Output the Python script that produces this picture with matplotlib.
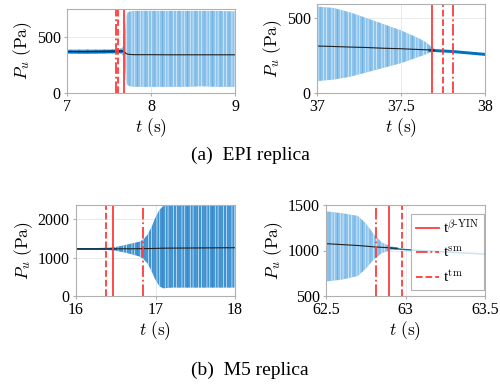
import numpy as np
import matplotlib
matplotlib.use("Agg")
from matplotlib import pyplot as plt

plt.rcParams['font.family'] = ['Liberation Serif', 'DejaVu Serif']
plt.rcParams['mathtext.fontset'] = 'cm'
plt.rcParams['hatch.linewidth'] = 0.5

BLUE = '#0072BD'
LIGHT = '#8cc3ec'
RED = '#ff3b3b'

# EPI onset (7-9 s)
a1_t = [7.0, 7.2, 7.4, 7.6, 7.65, 7.68, 7.7, 7.72, 7.75, 7.8, 8.0, 8.2, 8.4, 8.6, 8.8, 9.0]
a1_hi = [390, 392, 392, 395, 400, 430, 650, 720, 730, 735, 735, 735, 735, 735, 735, 730]
a1_lo = [355, 352, 352, 355, 350, 320, 120, 70, 60, 55, 55, 55, 55, 60, 55, 55]
a1_mean = [372, 372, 373, 375, 378, 370, 355, 348, 345, 343, 343, 342, 342, 342, 342, 342]
a1_qt = [7.0, 7.2, 7.4, 7.6, 7.66]
a1_qc = [372, 371, 373, 376, 378]
a1_lines = {'bYIN': 7.682, 'sm': 7.585, 'tm': 7.602}

# EPI offset (37-38 s)
a2_t = [37.0, 37.1, 37.2, 37.3, 37.4, 37.5, 37.6, 37.65, 37.68, 37.7]
a2_hi = [580, 570, 540, 500, 460, 420, 370, 340, 310, 300]
a2_lo = [80, 90, 110, 140, 170, 200, 240, 260, 275, 280]
a2_mean = [315, 312, 308, 305, 300, 297, 292, 290, 288, 286]
a2_qt = [37.66, 37.75, 37.8, 37.9, 38.0]
a2_qc = [290, 285, 282, 272, 262]
a2_lines = {'bYIN': 37.683, 'sm': 37.81, 'tm': 37.75}

# M5 onset (16-18 s)
b1_t = [16.0, 16.2, 16.4, 16.5, 16.6, 16.7, 16.8, 16.85, 16.9, 16.95, 17.0, 17.05, 17.1, 17.2, 17.4, 17.6, 17.8, 18.0]
b1_hi = [1250, 1250, 1260, 1280, 1320, 1370, 1420, 1480, 1600, 1800, 2050, 2250, 2350, 2370, 2370, 2370, 2370, 2370]
b1_lo = [1210, 1210, 1200, 1180, 1140, 1090, 1030, 960, 850, 650, 420, 250, 200, 220, 220, 220, 220, 220]
b1_mean = [1230, 1230, 1230, 1230, 1232, 1233, 1235, 1236, 1238, 1240, 1242, 1245, 1248, 1250, 1252, 1255, 1258, 1260]
b1_qt = [16.0, 16.2, 16.4, 16.5]
b1_qc = [1230, 1230, 1230, 1230]
b1_lines = {'bYIN': 16.47, 'sm': 16.84, 'tm': 16.377}

# M5 offset (62.5-63.5 s)
b2_t = [62.5, 62.6, 62.7, 62.75, 62.8, 62.85, 62.9, 62.95]
b2_hi = [1430, 1410, 1380, 1300, 1180, 1090, 1050, 1030]
b2_lo = [660, 680, 720, 800, 900, 970, 1000, 1010]
b2_mean = [1075, 1065, 1055, 1048, 1040, 1035, 1030, 1025]
b2_qt = [62.9, 63.0, 63.1, 63.2, 63.3, 63.4, 63.5]
b2_qc = [1030, 1015, 1005, 995, 985, 975, 965]
b2_lines = {'bYIN': 62.894, 'sm': 62.815, 'tm': 62.976}

styles = {'bYIN': '-', 'sm': '-.', 'tm': '--'}
labels = {'bYIN': r't$^{\beta\mathrm{\text{-}YIN}}$', 'sm': r't$^{\mathrm{sm}}$', 'tm': r't$^{\mathrm{tm}}$'}


def panel(ax, t, hi, lo, mean, qt, qc, qw, lines, xlim, ylim, xticks, yticks, face, streak):
    ax.fill_between(t, lo, hi, facecolor=face, edgecolor='#e4f1fb', hatch='||||||', linewidth=0)
    ax.fill_between(t, lo, hi, facecolor='none', edgecolor=streak, hatch='||', linewidth=0)
    ax.fill_between(qt, np.array(qc) - qw, np.array(qc) + qw, color=BLUE, linewidth=0)
    ax.plot(t, mean, color='#222222', lw=0.8)
    for k in ['bYIN', 'sm', 'tm']:
        ax.axvline(lines[k], color=RED, ls=styles[k], lw=1.3, label=labels[k])
    ax.set_xlim(xlim)
    ax.set_ylim(ylim)
    ax.set_xticks(xticks)
    ax.set_xticklabels([f'{v:g}' for v in xticks])
    ax.set_yticks(yticks)
    ax.grid(True, color='#e6e6e6', lw=0.6)
    ax.set_axisbelow(True)
    for s in ax.spines.values():
        s.set_color('#b0b0b0')
        s.set_linewidth(0.8)
    ax.tick_params(labelsize=11.5, length=2.5, color='#b0b0b0', pad=2)
    ax.set_xlabel(r'$t\ (\mathrm{s})$', fontsize=12.5, labelpad=1)
    ax.set_ylabel(r'$P_u\ (\mathrm{Pa})$', fontsize=12.5, labelpad=2)


fig = plt.figure(figsize=(5, 3.85), dpi=100)
W, H = 500, 385


def axes_px(l, t, r, b):
    return fig.add_axes([l / W, 1 - b / H, (r - l) / W, (b - t) / H])


ax1 = axes_px(67, 9, 235, 93)
panel(ax1, a1_t, a1_hi, a1_lo, a1_mean, a1_qt, a1_qc, 14, a1_lines,
      (7, 9), (0, 752), [7, 8, 9], [0, 500], LIGHT, '#4a9ad6')
ax2 = axes_px(317, 4, 485, 93)
panel(ax2, a2_t, a2_hi, a2_lo, a2_mean, a2_qt, a2_qc, 10, a2_lines,
      (37, 38), (0, 597), [37, 37.5, 38], [0, 500], LIGHT, '#4a9ad6')
ax3 = axes_px(76, 205, 235, 296)
panel(ax3, b1_t, b1_hi, b1_lo, b1_mean, b1_qt, b1_qc, 18, b1_lines,
      (16, 18), (0, 2375), [16, 17, 18], [0, 1000, 2000], '#3d93d3', '#0a68b0')
ax4 = axes_px(326, 205, 485, 296)
panel(ax4, b2_t, b2_hi, b2_lo, b2_mean, b2_qt, b2_qc, 8, b2_lines,
      (62.5, 63.5), (500, 1500), [62.5, 63, 63.5], [500, 1000, 1500], LIGHT, '#4a9ad6')

leg = ax4.legend(loc='upper left', bbox_to_anchor=(0.535, 0.9), fontsize=11,
                 frameon=True, fancybox=False, handlelength=1.5, handletextpad=0.3,
                 labelspacing=0.55, borderpad=0.3, borderaxespad=0)
leg.get_frame().set_edgecolor('#a0a0a0')
leg.get_frame().set_linewidth(0.8)

fig.text(0.5, 1 - 155 / H, '(a)  EPI replica', ha='center', va='center', fontsize=14)
fig.text(0.5, 1 - 370 / H, '(b)  M5 replica', ha='center', va='center', fontsize=14)

fig.savefig('out.png', dpi=100)
